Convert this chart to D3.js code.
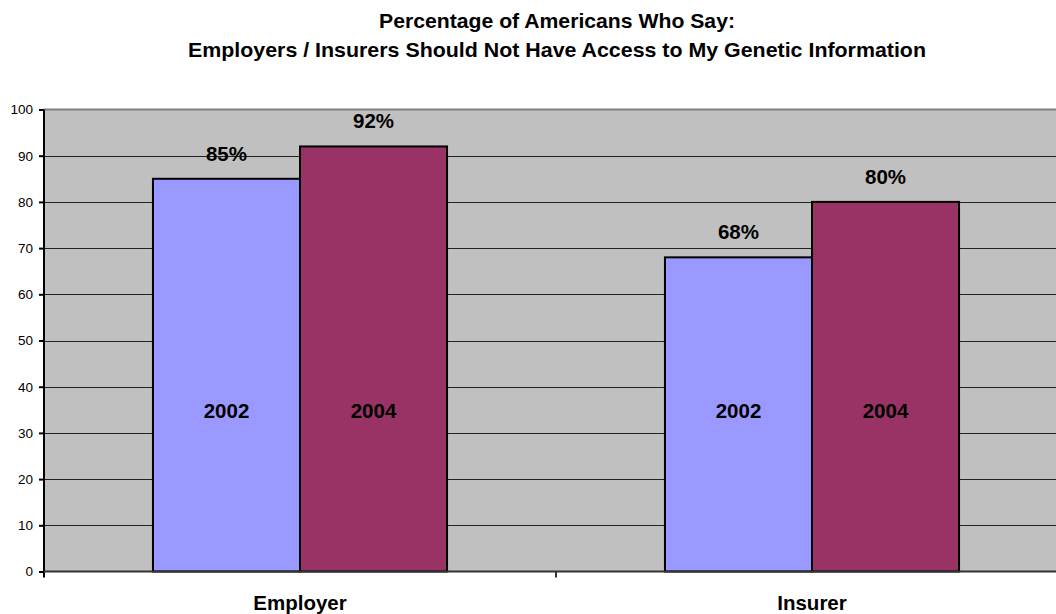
<!DOCTYPE html>
<html><head><meta charset="utf-8">
<script src="https://cdn.jsdelivr.net/npm/d3@7"></script>
<style>body{margin:0;background:#fff;}svg{display:block;font-family:"Liberation Sans",Arial,sans-serif;}</style>
</head><body>
<svg id="c" width="1056" height="614"></svg>
<script>
const categories = ["Employer", "Insurer"];
const years = ["2002", "2004"];
const values2002 = [85, 68];
const values2004 = [92, 80];
const yTicks = [0,10,20,30,40,50,60,70,80,90,100];
const titleLines = ["Percentage of Americans Who Say:", "Employers / Insurers Should Not Have Access to My Genetic Information"];
const colors = ["#9999FF", "#993366"];

const svg = d3.select("#c");
const L = 44, R = 1068, T = 109.5, B = 571.5;
const y = d3.scaleLinear().domain([0,100]).range([B, T]);
const x0 = d3.scaleBand().domain(categories).range([L, R]).padding(0);
const x1 = d3.scaleBand().domain(years).range([0, x0.bandwidth()]).paddingInner(0).paddingOuter(0.741);
const data = categories.map((c,i)=>({cat:c, vals:[values2002[i], values2004[i]]}));

// plot background
svg.append("rect").attr("x", L).attr("y", T).attr("width", 1056-L).attr("height", B-T).attr("fill", "#C0C0C0");
// grid
svg.append("g").selectAll("line").data(yTicks.filter(d=>d>0 && d<100)).join("line")
  .attr("x1", L).attr("x2", 1056).attr("y1", d=>Math.round(y(d))+0.5).attr("y2", d=>Math.round(y(d))+0.5)
  .attr("stroke", "#222").attr("stroke-width", 1);
svg.append("line").attr("x1", L).attr("x2", 1056).attr("y1", T).attr("y2", T).attr("stroke", "#808080").attr("stroke-width", 2);

// bars
const g = svg.append("g").selectAll("g").data(data).join("g").attr("transform", d=>`translate(${x0(d.cat)},0)`);
g.selectAll("rect").data(d=>d.vals.map((v,j)=>({v, yr:years[j], j}))).join("rect")
  .attr("x", d=>x1(d.yr)).attr("width", x1.bandwidth())
  .attr("y", d=>y(d.v)).attr("height", d=>B - y(d.v))
  .attr("fill", d=>colors[d.j]).attr("stroke", "#000").attr("stroke-width", 2);
g.selectAll("text.val").data(d=>d.vals.map((v,j)=>({v, yr:years[j]}))).join("text").attr("class","val")
  .attr("x", d=>x1(d.yr)+x1.bandwidth()/2).attr("y", d=>y(d.v)-18)
  .attr("text-anchor","middle").attr("font-size", 20.5).attr("font-weight","bold").text(d=>d.v+"%");
g.selectAll("text.yr").data(d=>d.vals.map((v,j)=>({v, yr:years[j]}))).join("text").attr("class","yr")
  .attr("x", d=>x1(d.yr)+x1.bandwidth()/2).attr("y", 418)
  .attr("text-anchor","middle").attr("font-size", 20.5).attr("font-weight","bold").text(d=>d.yr);

// y axis
const ya = svg.append("g").attr("transform", `translate(${L},0)`)
  .call(d3.axisLeft(y).tickValues(yTicks).tickSize(5).tickPadding(6));
ya.select(".domain").attr("stroke","#000").attr("stroke-width",2).attr("d", `M0,${T}V${B+6}`);
ya.selectAll(".tick line").attr("stroke","#000").attr("stroke-width",2);
ya.selectAll("text").attr("font-size",13.5).attr("font-family","Liberation Sans, Arial, sans-serif").attr("fill","#000");

// x axis
const xa = svg.append("g").attr("transform", `translate(0,${B})`)
  .call(d3.axisBottom(x0).tickSize(0).tickPadding(24));
xa.select(".domain").attr("stroke","#333").attr("stroke-width",2).attr("d", `M${L},0H1056`);
xa.selectAll("text").attr("font-size",20.5).attr("font-weight","bold").attr("font-family","Liberation Sans, Arial, sans-serif").attr("fill","#000");
svg.append("line").attr("x1", x0("Insurer")).attr("x2", x0("Insurer")).attr("y1", B).attr("y2", B+6).attr("stroke","#333").attr("stroke-width",2);

// title
const tw = [356, 738];
svg.append("g").selectAll("text").data(titleLines).join("text")
  .attr("x", 557).attr("y", (d,i)=>28+i*28.5).attr("text-anchor","middle")
  .attr("font-size", 21).attr("font-weight","bold")
  .attr("textLength", (d,i)=>tw[i]).attr("lengthAdjust","spacingAndGlyphs").text(d=>d);
</script>
</body></html>
